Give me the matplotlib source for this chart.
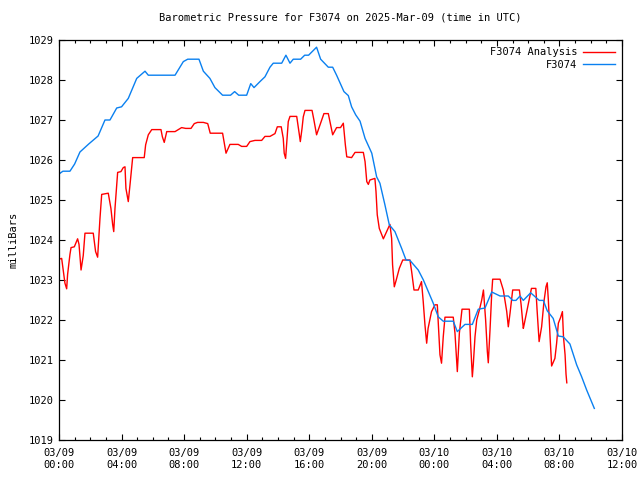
import matplotlib
matplotlib.use("Agg")
import matplotlib.pyplot as plt
from matplotlib.ticker import MultipleLocator, FixedLocator

# hours since 2025-03-09 00:00 UTC
analysis_hours = [0.0, 0.17, 0.27, 0.38, 0.49, 0.55, 0.7, 0.77, 0.98, 1.19, 1.28, 1.41, 1.55, 1.66,
                  2.19, 2.34, 2.47, 2.56, 2.62, 2.73, 3.15, 3.32, 3.43, 3.5, 3.58, 3.64, 3.75,
                  3.96, 4.11, 4.22, 4.28, 4.39, 4.43, 4.54, 4.71, 5.45, 5.54, 5.71, 5.93, 6.52,
                  6.61, 6.73, 6.89, 7.42, 7.59, 7.84, 8.1, 8.44, 8.65, 8.86, 9.23, 9.51, 9.67,
                  10.46, 10.55, 10.68, 10.93, 11.46, 11.68, 12.0, 12.21, 12.53, 12.96, 13.17,
                  13.49, 13.81, 13.96, 14.21, 14.34, 14.4, 14.49, 14.56, 14.66, 14.77, 15.2,
                  15.28, 15.37, 15.43, 15.54, 15.62, 15.73, 16.18, 16.3, 16.47, 16.69, 16.94,
                  17.22, 17.37, 17.5, 17.75, 18.0, 18.18, 18.31, 18.4, 18.71, 18.93, 19.46,
                  19.57, 19.68, 19.78, 19.88, 20.2, 20.27, 20.35, 20.48, 20.74, 20.95, 21.16,
                  21.27, 21.33, 21.44, 21.55, 21.76, 21.98, 22.44, 22.55, 22.7, 22.97, 23.18,
                  23.29, 23.4, 23.51, 23.6, 23.82, 24.04, 24.19, 24.3, 24.36, 24.46, 24.57,
                  24.68, 25.21, 25.32, 25.47, 25.6, 25.77, 26.24, 26.32, 26.43, 26.49, 26.6,
                  26.71, 26.88, 27.03, 27.14, 27.22, 27.28, 27.39, 27.45, 27.56, 27.67, 27.73,
                  28.2, 28.41, 28.63, 28.73, 28.84, 29.01, 29.44, 29.55, 29.69, 29.75, 29.93,
                  30.1, 30.21, 30.49, 30.57, 30.7, 30.86, 31.01, 31.14, 31.22, 31.29, 31.4,
                  31.5, 31.71, 31.82, 31.93, 32.08, 32.19, 32.26, 32.36, 32.42, 32.47]
analysis_mb = [1023.52, 1023.54, 1023.25, 1022.92, 1022.78, 1023.14, 1023.64, 1023.81, 1023.83,
               1024.03, 1023.89, 1023.25, 1023.61, 1024.17, 1024.17, 1023.71, 1023.57, 1024.17,
               1024.54, 1025.14, 1025.17, 1024.79, 1024.39, 1024.21, 1024.79, 1025.12, 1025.69,
               1025.71, 1025.81, 1025.83, 1025.29, 1025.04, 1024.96, 1025.38, 1026.06, 1026.06,
               1026.38, 1026.63, 1026.76, 1026.76, 1026.58, 1026.44, 1026.71, 1026.71, 1026.75,
               1026.81, 1026.79, 1026.79, 1026.91, 1026.94, 1026.94, 1026.91, 1026.67, 1026.67,
               1026.46, 1026.17, 1026.39, 1026.39, 1026.34, 1026.34, 1026.46, 1026.49, 1026.49,
               1026.59, 1026.59, 1026.66, 1026.83, 1026.83, 1026.54, 1026.17, 1026.04, 1026.42,
               1026.96, 1027.09, 1027.09, 1026.88, 1026.63, 1026.46, 1026.79, 1027.08, 1027.24,
               1027.24, 1027.0, 1026.63, 1026.88, 1027.16, 1027.16, 1026.88, 1026.63, 1026.81,
               1026.81, 1026.92, 1026.38, 1026.08, 1026.06, 1026.19, 1026.19, 1025.96, 1025.46,
               1025.39, 1025.5, 1025.54, 1025.21, 1024.63, 1024.29, 1024.03, 1024.21, 1024.39,
               1024.04, 1023.38, 1022.83, 1022.98, 1023.29, 1023.5, 1023.5, 1023.21, 1022.75,
               1022.75, 1022.96, 1022.46, 1021.88, 1021.42, 1021.79, 1022.21, 1022.38, 1022.38,
               1021.6, 1021.13, 1020.92, 1021.58, 1022.07, 1022.07, 1021.67, 1020.71, 1021.67,
               1022.27, 1022.27, 1021.42, 1020.58, 1020.88, 1021.58, 1022.0, 1022.25, 1022.5,
               1022.75, 1022.33, 1022.0, 1021.21, 1020.93, 1021.75, 1022.67, 1023.02, 1023.02,
               1022.75, 1022.21, 1021.83, 1022.17, 1022.75, 1022.75, 1022.38, 1021.79, 1021.9,
               1022.25, 1022.58, 1022.79, 1022.79, 1022.25, 1021.46, 1021.83, 1022.46, 1022.83,
               1022.93, 1022.5, 1021.58, 1020.85, 1021.04, 1021.42, 1021.92, 1022.07, 1022.21,
               1021.57, 1021.13, 1020.65, 1020.43]

station_hours = [0.0, 0.25, 0.7, 1.0, 1.34, 1.9, 2.5, 2.94, 3.26, 3.69, 4.0, 4.43, 4.97, 5.5,
                 5.71, 7.42, 7.95, 8.23, 8.95, 9.23, 9.65, 9.97, 10.46, 10.97, 11.23, 11.49,
                 12.0, 12.26, 12.47, 12.85, 13.17, 13.49, 13.7, 14.24, 14.51, 14.77, 14.98,
                 15.45, 15.71, 15.96, 16.47, 16.73, 17.22, 17.5, 17.75, 18.22, 18.5, 18.71,
                 18.97, 19.25, 19.57, 20.0, 20.31, 20.52, 20.84, 21.12, 21.48, 21.91, 22.19,
                 22.44, 22.97, 23.3, 23.93, 24.25, 24.57, 25.21, 25.47, 25.96, 26.43, 26.81,
                 27.24, 27.67, 28.2, 28.73, 29.01, 29.22, 29.48, 29.69, 30.16, 30.71, 30.97,
                 31.22, 31.6, 31.93, 32.24, 32.67, 33.1, 33.42, 33.74, 34.23]
station_mb = [1025.65, 1025.72, 1025.72, 1025.9, 1026.2, 1026.4, 1026.6, 1027.0, 1027.0,
              1027.3, 1027.33, 1027.54, 1028.04, 1028.22, 1028.12, 1028.12, 1028.46, 1028.52,
              1028.52, 1028.22, 1028.04, 1027.81, 1027.62, 1027.62, 1027.71, 1027.62, 1027.62,
              1027.91, 1027.81, 1027.96, 1028.08, 1028.32, 1028.42, 1028.42, 1028.62, 1028.42,
              1028.52, 1028.52, 1028.62, 1028.62, 1028.82, 1028.52, 1028.32, 1028.32, 1028.12,
              1027.71, 1027.61, 1027.33, 1027.13, 1026.97, 1026.54, 1026.17, 1025.58, 1025.42,
              1024.88, 1024.38, 1024.21, 1023.79, 1023.5, 1023.49, 1023.25, 1023.0, 1022.42,
              1022.08, 1021.97, 1021.97, 1021.71, 1021.89, 1021.89, 1022.27, 1022.3, 1022.7,
              1022.6, 1022.6, 1022.49, 1022.49, 1022.6, 1022.49, 1022.68, 1022.49, 1022.49,
              1022.23, 1022.04, 1021.6, 1021.58, 1021.4, 1020.88, 1020.58, 1020.25, 1019.79]

tick_hours = [0, 4, 8, 12, 16, 20, 24, 28, 32, 36]
tick_labels = ["03/09\n00:00", "03/09\n04:00", "03/09\n08:00", "03/09\n12:00", "03/09\n16:00",
               "03/09\n20:00", "03/10\n00:00", "03/10\n04:00", "03/10\n08:00", "03/10\n12:00"]

plt.rcParams.update({
    "font.family": "DejaVu Sans Mono",
    "font.size": 7.5,
})

fig = plt.figure(figsize=(6.4, 4.8), dpi=100)
ax = fig.add_axes([59 / 640, 40 / 480, 563 / 640, 400 / 480])

ax.plot(analysis_hours, analysis_mb, color="#ff0000", lw=1.0, label="F3074 Analysis")
ax.plot(station_hours, station_mb, color="#0a80f0", lw=1.0, label="F3074")

ax.set_xlim(0, 36)
ax.set_ylim(1019, 1029)
ax.xaxis.set_major_locator(FixedLocator(tick_hours))
ax.set_xticklabels(tick_labels)
ax.xaxis.set_minor_locator(MultipleLocator(1))
ax.yaxis.set_major_locator(MultipleLocator(1))
ax.tick_params(which="both", direction="in", top=True, right=True, width=0.8, colors="black")
ax.tick_params(which="major", length=4)
ax.tick_params(which="minor", length=2.2)
ax.tick_params(axis="x", pad=6)
for sp in ax.spines.values():
    sp.set_linewidth(0.9)

ax.set_ylabel("milliBars", labelpad=8)
ax.set_title("Barometric Pressure for F3074 on 2025-Mar-09 (time in UTC)", fontsize=7.5, pad=14)

ax.legend(loc="upper right", frameon=False, markerfirst=False, handlelength=3.0,
          handletextpad=0.6, labelspacing=0.25, borderaxespad=0.3)

fig.savefig("out.png", dpi=100)
